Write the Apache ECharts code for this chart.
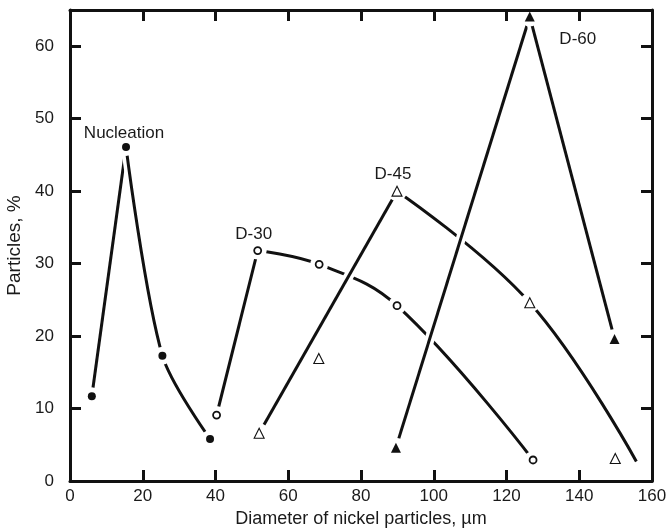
<!DOCTYPE html>
<html>
<head>
<meta charset="utf-8">
<script src="https://cdn.jsdelivr.net/npm/echarts@6/dist/echarts.min.js"></script>
<style>
  html, body { margin: 0; padding: 0; background: #fff; }
  #chart { width: 667px; height: 531px; }
</style>
</head>
<body>
<div id="chart"></div>
<script>
// measured points [diameter um, particles %]
var nucleation = [[6.0, 11.7], [15.4, 46.1], [25.4, 17.3], [38.5, 5.8]];
var d30 = [[40.3, 9.1], [51.6, 31.8], [68.5, 29.9], [89.9, 24.2], [127.3, 2.9]];
var d45 = [[52.0, 6.6], [68.4, 16.9], [89.9, 40.0], [126.4, 24.6], [149.9, 3.1]];
var d60 = [[89.6, 4.6], [126.4, 64.1], [149.7, 19.6]];

// hand drawn curves through the points (straight part / curved part)
var nucStraight = [[6.0, 11.7], [15.4, 46.1]];
var nucCurve = [[15.4, 46.1], [25.4, 17.3], [38.5, 5.8]];
var d30Straight = [[40.3, 9.1], [51.6, 31.8]];
var d30Curve = [[51.6, 31.8], [68.5, 29.9], [89.9, 24.2], [127.3, 2.9]];
var d45Straight = [[52.0, 6.6], [89.9, 40.0]];
var d45Curve = [[89.9, 40.0], [126.4, 24.6], [155.7, 2.7]];
var d60Up = [[89.6, 4.6], [126.4, 64.1]];
var d60Down = [[126.4, 64.1], [149.7, 19.6]];

var curveNames = ['Nucleation', 'D-30', 'D-45', 'D-60'];

var xMin = 0, xMax = 160, xStep = 20;
var yMin = 0, yMax = 65, yStep = 10;

var black = '#111';
var textColor = '#1a1a1a';
var font = 'Liberation Sans, Arial, Helvetica, sans-serif';

var chart = echarts.init(document.getElementById('chart'));

//每条线先画白色衬底，再画黑线，后画的线会把先画的线"断开"
var zNext = 2;
function curve(data, smooth) {
    var z = zNext++;
    return [
        { type: 'line', data: data, smooth: smooth, symbol: 'none', silent: true, z: z,
          lineStyle: { color: '#fff', width: 10 } },
        { type: 'line', data: data, smooth: smooth, symbol: 'none', silent: true, z: z,
          lineStyle: { color: black, width: 3 } }
    ];
}

//点的白色衬底放在上层画布，把线在点附近断开
function halo(data, size) {
    return { type: 'scatter', data: data, symbol: 'circle', symbolSize: size, silent: true,
             zlevel: 1, z: 1, itemStyle: { color: '#fff', opacity: 1 } };
}

function marks(data, symbol, size, style, labelIdx, name, offset) {
    var items = data.map(function (p, i) {
        var it = { value: p };
        if (i === labelIdx) {
            it.label = { show: true, position: 'inside', formatter: name, offset: offset,
                         color: textColor, fontSize: 17, fontFamily: font };
        }
        return it;
    });
    style.opacity = 1;
    return { type: 'scatter', data: items, symbol: symbol, symbolSize: size, silent: true,
             zlevel: 1, z: 5, itemStyle: style };
}

var series = [].concat(
    curve(nucStraight, false), curve(nucCurve, 0.3),
    curve(d30Straight, false), curve(d30Curve, 0.4),
    curve(d45Straight, false), curve(d45Curve, 0.4),
    curve(d60Up, false), curve(d60Down, false),
    [
        halo(nucleation, 18), halo(d30, 18), halo(d45, 20), halo(d60, 20),
        marks(nucleation, 'circle', 8, { color: black }, 1, curveNames[0], [-2, -14]),
        marks(d30, 'circle', 7, { color: '#fff', borderColor: black, borderWidth: 1.8 }, 1, curveNames[1], [-4, -16]),
        marks(d45, 'triangle', 10, { color: '#fff', borderColor: black, borderWidth: 1.1 }, 2, curveNames[2], [-4, -17]),
        marks(d60, 'triangle', 10, { color: black }, 1, curveNames[3], [48, 23])
    ]
);

var axisLine = { show: true, onZero: false, lineStyle: { color: black, width: 3 } };
var axisTick = { show: true, inside: true, length: 11, lineStyle: { color: black, width: 3 } };

//坐标轴放在最上层，避免被白色衬底盖住
var option = {
    animation: false,
    grid: { left: 70, right: 15, top: 10, bottom: 50, containLabel: false, outerBoundsMode: 'none' },
    xAxis: [{
        type: 'value', min: xMin, max: xMax, interval: xStep, position: 'bottom', zlevel: 1, z: 10,
        name: 'Diameter of nickel particles, \u00b5m', nameLocation: 'middle', nameGap: 29,
        nameTextStyle: { color: textColor, fontSize: 18, fontFamily: font },
        axisLine: axisLine, axisTick: axisTick, splitLine: { show: false },
        axisLabel: { color: textColor, fontSize: 17, fontFamily: font, margin: 7 }
    }, {
        type: 'value', min: xMin, max: xMax, interval: xStep, position: 'top', zlevel: 1, z: 10,
        axisLine: axisLine, axisTick: axisTick, splitLine: { show: false },
        axisLabel: { show: false }
    }],
    yAxis: [{
        type: 'value', min: yMin, max: yMax, interval: yStep, position: 'left', zlevel: 1, z: 10,
        name: 'Particles, %', nameLocation: 'middle', nameGap: 44,
        nameTextStyle: { color: textColor, fontSize: 19, fontFamily: font },
        axisLine: axisLine, axisTick: axisTick, splitLine: { show: false },
        axisLabel: { color: textColor, fontSize: 17, fontFamily: font, margin: 16,
            formatter: function (v) { return v % yStep === 0 ? v : ''; } }
    }, {
        type: 'value', min: yMin, max: yMax, interval: yStep, position: 'right', zlevel: 1, z: 10,
        axisLine: axisLine, axisTick: axisTick, splitLine: { show: false },
        axisLabel: { show: false }
    }],
    series: series
};

chart.setOption(option);
</script>
</body>
</html>
